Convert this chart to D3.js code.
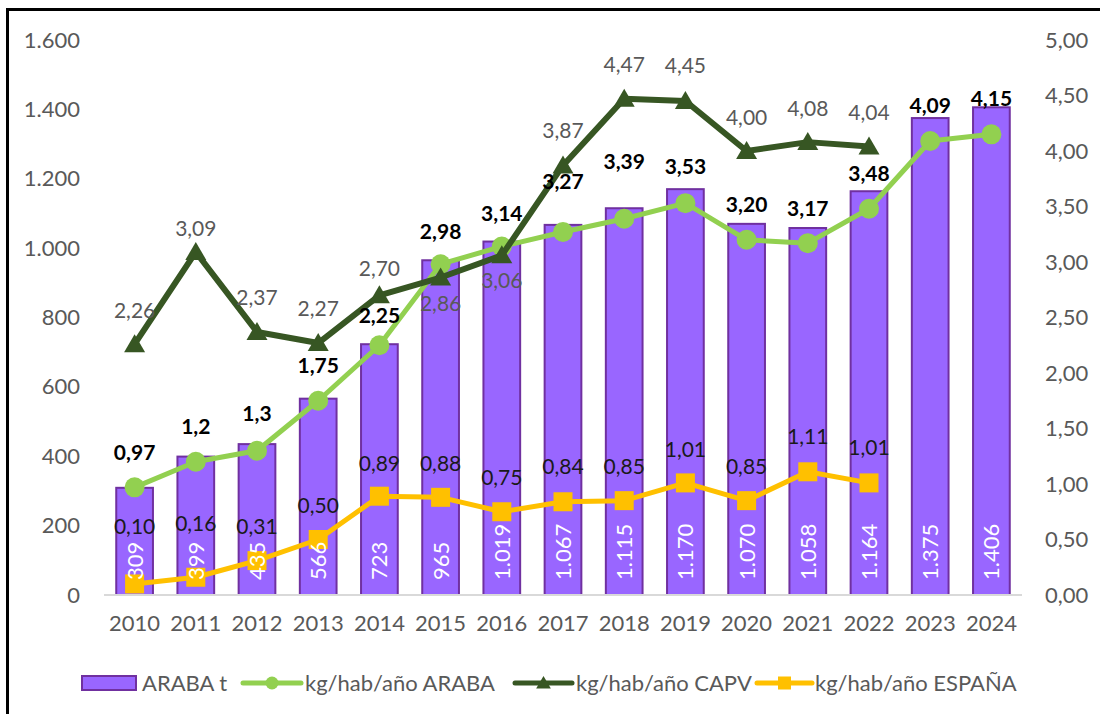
<!DOCTYPE html>
<html>
<head>
<meta charset="utf-8">
<script src="https://cdn.jsdelivr.net/npm/d3@7/dist/d3.min.js"></script>
<style>
  html, body { margin: 0; padding: 0; background: #fff; }
  svg { display: block; font-family: Lato, "Open Sans", sans-serif; }
</style>
</head>
<body>
<svg id="chart" width="1100" height="714"></svg>
<script>
// ---- Data ----
const years = ["2010","2011","2012","2013","2014","2015","2016","2017","2018","2019","2020","2021","2022","2023","2024"];
const arabaTons = [309, 399, 435, 566, 723, 965, 1019, 1067, 1115, 1170, 1070, 1058, 1164, 1375, 1406];
const arabaKg = [0.97, 1.2, 1.3, 1.75, 2.25, 2.98, 3.14, 3.27, 3.39, 3.53, 3.20, 3.17, 3.48, 4.09, 4.15];
const arabaKgLabels = ["0,97","1,2","1,3","1,75","2,25","2,98","3,14","3,27","3,39","3,53","3,20","3,17","3,48","4,09","4,15"];
const capvKg = [2.26, 3.09, 2.37, 2.27, 2.70, 2.86, 3.06, 3.87, 4.47, 4.45, 4.00, 4.08, 4.04];
const espanaKg = [0.10, 0.16, 0.31, 0.50, 0.89, 0.88, 0.75, 0.84, 0.85, 1.01, 0.85, 1.11, 1.01];
const leftTicks = [0, 200, 400, 600, 800, 1000, 1200, 1400, 1600];
const rightTicks = [0, 0.5, 1, 1.5, 2, 2.5, 3, 3.5, 4, 4.5, 5];
const legendLabels = ["ARABA t", "kg/hab/año ARABA", "kg/hab/año CAPV", "kg/hab/año ESPAÑA"];

// ---- Layout / style (label nudges in px, not data) ----
const arabaLabelDy = [-35,-35,-37,-35,-30,-33,-33,-51,-57,-37,-35,-35,-35,-36,-36];
const capvLabelDy  = [-34,-24,-34,-35,-27,26,25,-35,-34,-36,-34,-34,-34];
const espanaLabelDy = [-57,-54,-34,-34,-33,-34,-34,-35,-34,-33,-34,-35,-35];

const C = {
  barFill: "#9966FF", barStroke: "#7030A0",
  araba: "#92D050", capv: "#375623", espana: "#FFC000",
  axisText: "#595959", grid: "#D9D9D9"
};

const svg = d3.select("#chart");
const fmtThousands = v => d3.format(",")(v).replace(/,/g, ".");
const fmtDec2 = v => d3.format(".2f")(v).replace(".", ",");

// Frame
svg.append("rect").attr("x", 7.5).attr("y", 9.5).attr("width", 1200).attr("height", 800)
  .attr("fill", "#fff").attr("stroke", "#000").attr("stroke-width", 3);

const x = d3.scaleBand().domain(years).range([104, 1022]).paddingInner(0.4).paddingOuter(0.2);
const yL = d3.scaleLinear().domain([0, 1600]).range([595, 40]);
const yR = d3.scaleLinear().domain([0, 5]).range([595, 40]);
const cx = d => x(d) + x.bandwidth() / 2;

// Axes
const gL = svg.append("g").attr("transform", "translate(80,0)")
  .call(d3.axisLeft(yL).tickValues(leftTicks).tickSize(0).tickPadding(0).tickFormat(fmtThousands));
const gR = svg.append("g").attr("transform", "translate(1045,0)")
  .call(d3.axisRight(yR).tickValues(rightTicks).tickSize(0).tickPadding(0).tickFormat(fmtDec2));
const gB = svg.append("g").attr("transform", "translate(0,595)")
  .call(d3.axisBottom(x).tickSize(0).tickPadding(20));
[gL, gR, gB].forEach(g => {
  g.select(".domain").remove();
  g.selectAll("text").attr("fill", C.axisText).style("font-size", "22px").style("font-family", "Lato, sans-serif");
});

// Bars
svg.append("g").selectAll("rect").data(arabaTons).join("rect")
  .attr("x", (d, i) => x(years[i]))
  .attr("y", d => yL(d))
  .attr("width", x.bandwidth())
  .attr("height", d => yL(0) - yL(d))
  .attr("fill", C.barFill).attr("stroke", C.barStroke).attr("stroke-width", 2);

// Baseline
svg.append("line").attr("x1", 104).attr("x2", 1022).attr("y1", yL(0)).attr("y2", yL(0))
  .attr("stroke", C.grid).attr("stroke-width", 2);

// Line series
const line = d3.line().x(d => cx(d.year)).y(d => yR(d.v));
const toPts = arr => arr.map((v, i) => ({ year: years[i], v }));

const triPath = s => `M0,${-s}L${s * 1.05},${s * 0.8}L${-s * 1.05},${s * 0.8}Z`;

function drawSeries(arr, color, width, marker) {
  const pts = toPts(arr);
  const g = svg.append("g");
  g.append("path").datum(pts).attr("d", line).attr("fill", "none")
    .attr("stroke", color).attr("stroke-width", width).attr("stroke-linejoin", "round");
  const m = g.selectAll(".m").data(pts).join("g")
    .attr("transform", d => `translate(${cx(d.year)},${yR(d.v)})`);
  if (marker === "circle") m.append("circle").attr("r", 10).attr("fill", color);
  if (marker === "tri") m.append("path").attr("d", triPath(10)).attr("fill", color);
  if (marker === "square") m.append("rect").attr("x", -9.5).attr("y", -9.5).attr("width", 19).attr("height", 19).attr("fill", color);
}
drawSeries(arabaKg, C.araba, 5, "circle");
drawSeries(capvKg, C.capv, 6, "tri");
drawSeries(espanaKg, C.espana, 5, "square");

// Bar value labels (rotated, white)
svg.append("g").selectAll("text").data(arabaTons).join("text")
  .attr("transform", (d, i) => `translate(${cx(years[i])},580) rotate(-90)`)
  .attr("dy", "0.36em")
  .attr("text-anchor", "start")
  .attr("fill", "#fff").style("font-size", "22px")
  .text(d => fmtThousands(d));

// Line labels
function drawLabels(arr, texts, dys, color, weight) {
  svg.append("g").selectAll("text").data(arr).join("text")
    .attr("x", (d, i) => cx(years[i]))
    .attr("y", (d, i) => yR(d) + dys[i])
    .attr("dy", "0.36em")
    .attr("text-anchor", "middle")
    .attr("fill", color).style("font-size", "21px").style("font-weight", weight)
    .text((d, i) => texts[i]);
}
drawLabels(arabaKg, arabaKgLabels, arabaLabelDy, "#000", "bold");
drawLabels(capvKg, capvKg.map(fmtDec2), capvLabelDy, "#595959", "normal");
drawLabels(espanaKg, espanaKg.map(fmtDec2), espanaLabelDy, "#1a1a1a", "normal");

// Legend
const ly = 683;
const lg = svg.append("g");
lg.append("rect").attr("x", 82).attr("y", 676).attr("width", 54).attr("height", 14)
  .attr("fill", C.barFill).attr("stroke", C.barStroke).attr("stroke-width", 2);
const legLines = [
  { x1: 243, x2: 301, color: C.araba, marker: "circle" },
  { x1: 515, x2: 572, color: C.capv, marker: "tri" },
  { x1: 757, x2: 812, color: C.espana, marker: "square" }
];
legLines.forEach(l => {
  lg.append("line").attr("x1", l.x1).attr("x2", l.x2).attr("y1", ly).attr("y2", ly)
    .attr("stroke", l.color).attr("stroke-width", 5).attr("stroke-linecap", "round");
  const mx = (l.x1 + l.x2) / 2;
  if (l.marker === "circle") lg.append("circle").attr("cx", mx).attr("cy", ly).attr("r", 6.5).attr("fill", l.color);
  if (l.marker === "tri") lg.append("path").attr("transform", `translate(${mx},${ly})`).attr("d", triPath(7)).attr("fill", l.color);
  if (l.marker === "square") lg.append("rect").attr("x", mx - 6.5).attr("y", ly - 6.5).attr("width", 13).attr("height", 13).attr("fill", l.color);
});
const legTextX = [142, 305, 576, 815];
lg.selectAll("text.lt").data(legendLabels).join("text")
  .attr("class", "lt")
  .attr("x", (d, i) => legTextX[i]).attr("y", ly).attr("dy", "0.36em")
  .attr("fill", C.axisText).style("font-size", "22px")
  .text(d => d);
</script>
</body>
</html>
